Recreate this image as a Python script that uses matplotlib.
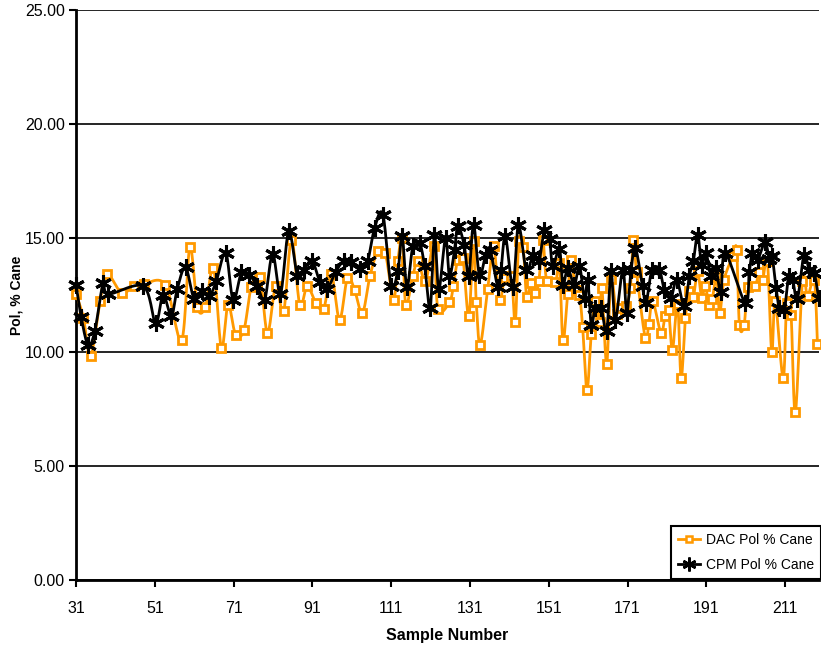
import numpy as np
import matplotlib
matplotlib.use("Agg")
import matplotlib.pyplot as plt

plt.rcParams["font.family"] = ["Liberation Sans", "DejaVu Sans"]
fs = 11.5

# DAC Pol % Cane (sample number, value)
dac_x = [31.0, 32.9, 34.7, 37.1, 38.8, 42.6, 45.7, 48.3, 53.7, 57.8, 59.9, 61.8, 63.8, 65.9,
         67.9, 69.6, 71.5, 73.6, 75.5, 77.7, 79.6, 81.7, 83.7, 85.7, 87.8, 89.7, 91.9, 93.9,
         95.8, 97.9, 99.9, 101.7, 103.7, 105.6, 107.6, 109.5, 111.6, 112.7, 113.8, 114.7,
         116.5, 117.8, 119.7, 121.8, 122.9, 125.8, 126.8, 127.9, 129.2, 130.7, 131.9, 132.6,
         133.6, 135.5, 137.0, 138.5, 139.8, 141.5, 142.5, 143.4, 144.5, 145.4, 146.5, 147.6,
         148.5, 149.5, 150.5, 152.7, 153.7, 154.6, 155.8, 156.7, 157.8, 158.8, 159.6, 160.7,
         161.8, 162.8, 163.9, 164.5, 165.7, 166.8, 168.2, 169.3, 170.6, 171.7, 172.5, 173.3,
         175.5, 176.4, 177.4, 179.5, 180.5, 181.4, 182.4, 183.7, 184.6, 185.7, 186.7, 187.7,
         188.8, 189.8, 190.7, 191.7, 192.5, 193.6, 194.4, 195.5, 197.8, 198.7, 199.4, 200.6,
         201.5, 203.4, 204.4, 205.3, 206.5, 207.6, 208.5, 210.5, 211.4, 212.5, 213.6, 215.4,
         216.7, 218.4, 219.2]
dac_y = [12.56, 11.49, 9.81, 12.22, 13.44, 12.59, 12.91, 13.0, 12.95, 10.51, 14.59, 11.97, 11.97, 13.68,
         10.18, 12.08, 10.76, 10.95, 12.85, 13.29, 10.83, 12.91, 11.78, 14.93, 12.08, 12.88, 12.15, 11.90,
         13.44, 11.42, 13.25, 12.73, 11.71, 13.32, 14.42, 14.34, 12.30, 14.0, 15.0, 12.08,
         13.35, 13.98, 13.1, 14.63, 11.89, 12.18, 12.91, 14.05, 14.12, 11.56, 14.85, 12.18,
         10.32, 12.76, 14.63, 12.27, 13.25, 13.35, 11.30, 14.85, 14.6, 12.41, 13.03, 12.59,
         13.1, 14.9, 13.1, 13.05, 13.9, 10.51, 12.56, 14.05, 12.70, 12.51, 11.10, 8.35,
         10.80, 12.22, 11.30, 12.80, 9.49, 13.2, 11.68, 11.93, 12.0, 12.81, 14.93, 13.49,
         10.61, 11.24, 12.22, 10.83, 11.56, 11.86, 10.10, 12.12, 8.86, 11.49, 12.66, 12.41,
         13.54, 12.37, 12.91, 12.08, 12.32, 13.29, 11.71, 13.17, 14.22, 14.46, 11.20, 11.20,
         12.85, 12.91, 13.49, 13.17, 13.98, 9.99, 12.22, 8.86, 12.15, 11.64, 7.35, 13.1,
         12.44, 13.17, 10.37]

# CPM Pol % Cane (sample number, value)
cpm_x = [31.0, 32.3, 34.1, 35.8, 37.9, 39.2, 48.1, 51.2, 53.1, 55.2, 56.7, 58.8, 61.0, 63.1,
         64.8, 66.6, 69.0, 70.9, 73.0, 74.9, 77.0, 78.9, 80.9, 82.9, 85.0, 87.2, 88.8, 90.9,
         92.9, 94.7, 96.9, 99.0, 100.9, 103.0, 105.0, 106.8, 108.9, 111.0, 112.7, 113.8,
         115.0, 116.5, 118.2, 119.5, 120.9, 122.0, 123.1, 124.8, 125.8, 127.1, 127.9, 129.5,
         130.7, 131.9, 133.4, 135.0, 136.1, 138.1, 138.9, 140.0, 141.9, 143.3, 145.3, 147.1,
         148.5, 149.9, 151.2, 152.0, 153.7, 154.6, 155.8, 157.5, 158.8, 160.1, 160.9, 161.8,
         162.8, 164.3, 165.7, 166.8, 167.9, 169.8, 170.8, 171.9, 173.0, 174.8, 175.7, 177.2,
         179.1, 180.3, 182.0, 183.5, 185.4, 186.7, 187.7, 188.8, 189.8, 190.9, 192.2, 193.4,
         194.7, 195.8, 200.9, 201.9, 202.7, 204.0, 205.9, 207.0, 207.7, 208.7, 209.5, 210.8,
         211.9, 212.9, 214.1, 215.8, 217.1, 218.4, 219.5]
cpm_y = [12.95, 11.54, 10.29, 10.94, 13.03, 12.54, 12.88, 11.27, 12.51, 11.59, 12.76, 13.71, 12.32, 12.66,
         12.44, 13.1, 14.34, 12.27, 13.49, 13.39, 12.91, 12.30, 14.31, 12.56, 15.29, 13.35, 13.58, 14.01,
         13.07, 12.76, 13.51, 14.01, 13.95, 13.64, 13.98, 15.44, 16.02, 12.91, 13.57, 15.07,
         12.85, 14.63, 14.78, 13.76, 11.93, 15.15, 12.76, 15.0, 13.35, 14.49, 15.54, 14.71,
         13.35, 15.58, 13.39, 14.27, 14.49, 12.85, 13.61, 15.07, 12.85, 15.55, 13.61, 14.27,
         13.98, 15.34, 14.96, 13.76, 14.52, 12.95, 13.68, 12.95, 13.76, 12.32, 13.17, 11.2,
         11.93, 11.93, 10.91, 13.54, 11.39, 13.61, 11.71, 13.61, 14.56, 12.88, 12.15, 13.61,
         13.61, 12.73, 12.37, 13.17, 12.0, 13.35, 13.98, 15.15, 13.83, 14.34, 13.35, 13.68,
         12.62, 14.34, 12.15, 13.49, 14.34, 14.05, 14.81, 14.08, 14.2, 12.81, 11.93, 11.86,
         13.32, 13.17, 12.32, 14.27, 13.61, 13.46, 12.37]

x_ticks = [31, 51, 71, 91, 111, 131, 151, 171, 191, 211]
y_ticks = [0, 5, 10, 15, 20, 25]

ORANGE = "#FF9900"


def smooth(xs, ys, n=16):
    # excel style smoothed line (catmull-rom as bezier)
    p = np.column_stack([xs, ys])
    p = np.vstack([p[0], p, p[-1]])
    t = np.linspace(0, 1, n)[:, None]
    out = []
    for i in range(1, len(p) - 2):
        p0, p1, p2, p3 = p[i - 1], p[i], p[i + 1], p[i + 2]
        c1 = p1 + (p2 - p0) / 6
        c2 = p2 - (p3 - p1) / 6
        seg = (1 - t) ** 3 * p1 + 3 * (1 - t) ** 2 * t * c1 + 3 * (1 - t) * t ** 2 * c2 + t ** 3 * p2
        out.append(seg if i == 1 else seg[1:])
    out = np.vstack(out)
    return out[:, 0], out[:, 1]


fig = plt.figure(figsize=(8.21, 6.49), dpi=100)
ax = fig.add_axes([76 / 821, 1 - 580 / 649, 743 / 821, 570 / 649])

sx, sy = smooth(dac_x, dac_y)
ax.plot(sx, sy, color=ORANGE, lw=2.0, zorder=3)
ax.plot(dac_x, dac_y, ls="none", marker="s", ms=6, mfc="white", mec=ORANGE, mew=2.0,
        zorder=4, clip_on=False)

sx, sy = smooth(cpm_x, cpm_y)
ax.plot(sx, sy, color="black", lw=2.0, zorder=5)
ax.plot(cpm_x, cpm_y, ls="none", marker=(6, 2, 0), ms=12, mec="black", mew=2.2,
        zorder=6, clip_on=False)

# proxies for the legend
h1, = ax.plot([], [], color=ORANGE, lw=2.0, marker="s", ms=5, mfc="white", mec=ORANGE, mew=1.8)
h2, = ax.plot([], [], color="black", lw=2.0, marker=(6, 2, 0), ms=10, mec="black", mew=1.8)

ax.set_xlim(31, 219.6)
ax.set_ylim(0, 25)
ax.set_xticks(x_ticks)
ax.set_yticks(y_ticks)
ax.set_yticklabels([f"{v:.2f}" for v in y_ticks])
ax.yaxis.grid(True, color="black", lw=1.2)
ax.set_axisbelow(True)
for s in ["top", "right"]:
    ax.spines[s].set_visible(False)
for s in ["left", "bottom"]:
    ax.spines[s].set_linewidth(2)
ax.tick_params(axis="both", direction="out", length=5, width=1.5, labelsize=fs, pad=3)
ax.tick_params(axis="x", pad=10)

ax.set_xlabel("Sample Number", fontsize=fs, fontweight="bold", labelpad=9)
ax.set_ylabel("Pol, % Cane", fontsize=fs - 1.5, fontweight="bold")
ax.yaxis.set_label_coords(-0.07, 0.5)

leg = ax.legend([h1, h2], ["DAC Pol % Cane", "CPM Pol % Cane"], loc="lower right",
                bbox_to_anchor=(1.0, 1 - 579 / 649), bbox_transform=fig.transFigure,
                fontsize=fs - 1.5, fancybox=False, framealpha=1, edgecolor="black",
                handlelength=1.6, handletextpad=0.4, borderpad=0.5, labelspacing=0.8,
                borderaxespad=0)
leg.get_frame().set_linewidth(1.5)
leg.set_zorder(10)

fig.savefig("out.png", dpi=100)
